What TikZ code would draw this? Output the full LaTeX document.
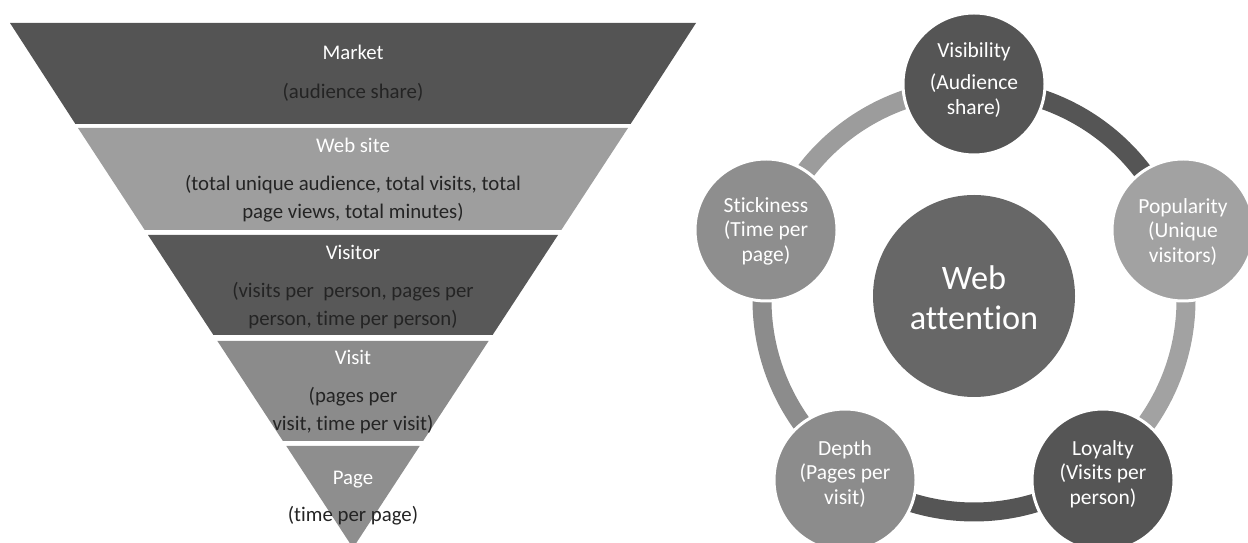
\documentclass[tikz,border=0pt]{standalone}
\usepackage{fontspec}
\setmainfont{Carlito}[Ligatures={NoCommon,NoContextual,NoRare,NoDiscretionary}]
\definecolor{bandA}{HTML}{545454}
\definecolor{bandB}{HTML}{9E9E9E}
\definecolor{bandC}{HTML}{585858}
\definecolor{bandD}{HTML}{8B8B8B}
\definecolor{bandE}{HTML}{8E8E8E}
\definecolor{subtext}{HTML}{242424}
\definecolor{cdark}{HTML}{555555}
\definecolor{clight}{HTML}{A2A2A2}
\definecolor{cmid}{HTML}{8C8C8C}
\definecolor{ccenter}{HTML}{676767}
\definecolor{arclight}{HTML}{9C9C9C}
\begin{document}
\begin{tikzpicture}[x=1pt,y=1pt,
  ftitle/.style={anchor=base, text=white, inner sep=0pt, font=\fontsize{20.8}{28}\selectfont},
  fsub/.style={anchor=base, text=subtext, inner sep=0pt, font=\fontsize{20.8}{28}\selectfont},
  outer/.style={circle, minimum size=142pt, inner sep=0pt, draw=white, line width=3pt},
  ctext/.style={text=white, align=center, inner sep=0pt, font=\fontsize{21.5}{24.5}\selectfont},
  ringarc/.style={line width=19pt},
]
\path[use as bounding box] (0,0) rectangle (1248,543);
\clip (0,0) rectangle (1248,543);

% ---------- funnel ----------
\fill[bandA] (10,520) -- (696,520) -- (630.6,419) -- (75.4,419) -- cycle;
\fill[bandB] (78,415) -- (628,415) -- (561.3,313) -- (144.7,313) -- cycle;
\fill[bandC] (148,308) -- (558,308) -- (492.6,208) -- (213.4,208) -- cycle;
\fill[bandD] (217.4,202) -- (488.6,202) -- (423.1,102) -- (282.9,102) -- cycle;
\fill[bandE] (286.3,97) -- (419.7,97) -- (353,-5) -- cycle;

\node[ftitle] (market) at (353,483) {Market};
\node[fsub] (marketsub) at (353,444) {(audience share)};
\node[ftitle] (website) at (353,390) {Web site};
\node[fsub] (websubA) at (353,352) {(total unique audience, total visits, total};
\node[fsub] (websubB) at (353,324) {page views, total minutes)};
\node[ftitle] (visitor) at (353,283) {Visitor};
\node[fsub] (visitorsubA) at (353,245) {(visits per\ \ person, pages per};
\node[fsub] (visitorsubB) at (353,217) {person, time per person)};
\node[ftitle] (visit) at (353,178) {Visit};
\node[fsub] (visitsubA) at (353,140) {(pages per};
\node[fsub] (visitsubB) at (353,112) {visit, time per visit)};
\node[ftitle] (page) at (353,58) {Page};
\node[fsub] (pagesub) at (353,21) {(time per page)};

% ---------- cycle ----------
\coordinate (ringc) at (974,243);
\draw[ringarc, cdark]    (ringc) ++(90:212)    arc[start angle=90,    end angle=18.5,   radius=212];
\draw[ringarc, clight]   (ringc) ++(18.5:212)  arc[start angle=18.5,  end angle=-54.4,  radius=212];
\draw[ringarc, cdark]    (ringc) ++(-54.4:212) arc[start angle=-54.4, end angle=-125.6, radius=212];
\draw[ringarc, cmid]     (ringc) ++(234.4:212) arc[start angle=234.4, end angle=161.5,  radius=212];
\draw[ringarc, arclight] (ringc) ++(161.5:212) arc[start angle=161.5, end angle=90,     radius=212];

\node[circle, minimum size=202pt, inner sep=0pt, fill=ccenter] (center) at (974,247) {};
\node[outer, fill=cdark]  (vis) at (974,459) {};
\node[outer, fill=clight] (pop) at (1183,313) {};
\node[outer, fill=cdark]  (loy) at (1103,63) {};
\node[outer, fill=cmid]   (dep) at (845,63) {};
\node[outer, fill=bandE]  (sti) at (766,313) {};

\node[ctext, font=\fontsize{34.3}{40}\selectfont] (centertext) at (974,245) {Web\\attention};
\node[ctext] (vistext) at (974,463) {Visibility\\[8pt](Audience\\share)};
\node[ctext] (poptext) at (1183,311) {Popularity\\(Unique\\visitors)};
\node[ctext] (loytext) at (1103,69) {Loyalty\\(Visits per\\person)};
\node[ctext] (deptext) at (845,69) {Depth\\(Pages per\\visit)};
\node[ctext] (stitext) at (766,312) {Stickiness\\(Time per\\page)};
\end{tikzpicture}
\end{document}
